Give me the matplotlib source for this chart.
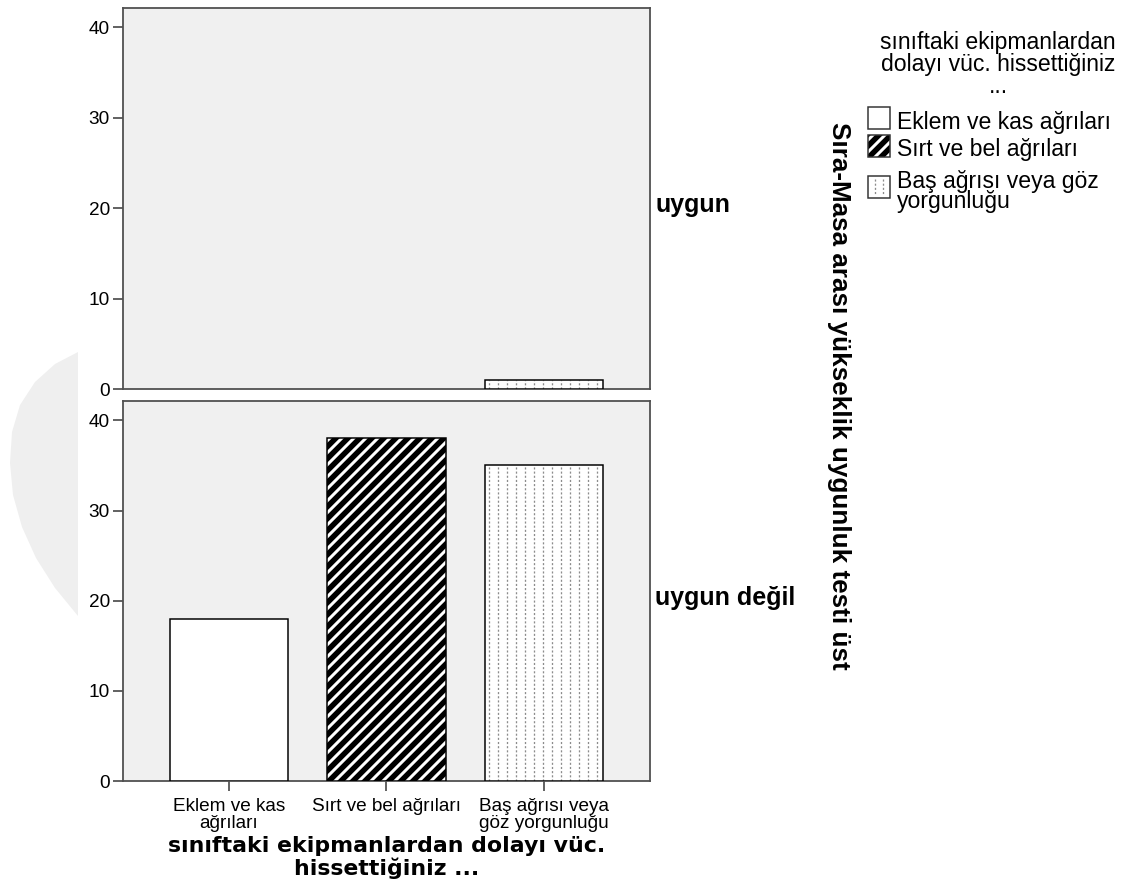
import numpy as np
import matplotlib
matplotlib.use("Agg")
import matplotlib.pyplot as plt
from matplotlib.patches import Rectangle, Polygon

# ---- data -------------------------------------------------------------
categories = ["Eklem ve kas\nağrıları", "Sırt ve bel ağrıları", "Baş ağrısı veya\ngöz yorgunluğu"]
legend_labels = ["Eklem ve kas ağrıları", "Sırt ve bel ağrıları", "Baş ağrısı veya göz\nyorgunluğu"]
panel_labels = ["uygun", "uygun değil"]
counts_uygun = [0, 0, 1]
counts_uygun_degil = [18, 38, 35]
y_ticks = [0, 10, 20, 30, 40]

x_title = "sınıftaki ekipmanlardan dolayı vüc.\nhissettiğiniz ..."
legend_title = "sınıftaki ekipmanlardan\ndolayı vüc. hissettiğiniz\n..."
facet_title = "Sıra-Masa arası yükseklik uygunluk testi üst"

# ---- styling ----------------------------------------------------------
W, H, DPI = 1127, 883, 72
plt.rcParams["hatch.linewidth"] = 3.0
REG = ["Liberation Sans", "DejaVu Sans"]
BOLD = ["Liberation Sans", "DejaVu Sans"]
BOLD_TITLE = ["DejaVu Sans"]
PANEL_BG = "#f0f0f0"
FRAME = "#505050"
DOT_COLOR = "#8c8c8c"
BAR_W = 0.75
DOT_STEP = 0.057

fig = plt.figure(figsize=(W / DPI, H / DPI), dpi=DPI)


def px_axes(left, top, right, bottom):
    return fig.add_axes([left / W, (H - bottom) / H, (right - left) / W, (bottom - top) / H])


# soft grey backdrop shape at the left edge
shape_px = [(78, 352), (55, 364), (35, 382), (20, 405), (12, 432), (10, 463), (13, 495),
            (22, 527), (36, 558), (55, 588), (78, 616)]
fig.patches.append(Polygon([(x / W, 1 - y / H) for x, y in shape_px], closed=True,
                           transform=fig.transFigure, facecolor="#efefef",
                           edgecolor="none", zorder=-5))


def dotted_lines(ax, x0, x1, y0, y1, step, clip=None, lw=1.3, z=3.5):
    for xx in np.arange(x0 + step / 2, x1, step):
        ln, = ax.plot([xx, xx], [y0, y1], color=DOT_COLOR, lw=lw,
                      linestyle=(0, (1.6, 1.6)), zorder=z, solid_capstyle="butt")
        if clip is not None:
            ln.set_clip_path(clip)


def draw_bar(ax, x, val, style):
    if val <= 0:
        return
    left = x - BAR_W / 2
    if style == 0:
        ax.bar(x, val, width=BAR_W, color="white", edgecolor="black", linewidth=1.5, zorder=3)
    elif style == 1:
        ax.bar(x, val, width=BAR_W, color="black", edgecolor="white", hatch="//",
               linewidth=0, zorder=3)
        ax.bar(x, val, width=BAR_W, fill=False, edgecolor="black", linewidth=1.5, zorder=4)
    else:
        bars = ax.bar(x, val, width=BAR_W, color="white", edgecolor="none", zorder=3)
        dotted_lines(ax, left, left + BAR_W, 0, val, DOT_STEP, clip=bars[0])
        ax.bar(x, val, width=BAR_W, fill=False, edgecolor="black", linewidth=1.5, zorder=4)


def style_axes(ax, show_xticks):
    ax.set_facecolor(PANEL_BG)
    ax.set_xlim(-0.673, 2.673)
    ax.set_ylim(0, 42.15)
    ax.set_yticks(y_ticks)
    ax.set_yticklabels([str(t) for t in y_ticks], fontfamily=REG, fontsize=19)
    for sp in ax.spines.values():
        sp.set_color(FRAME)
        sp.set_linewidth(1.8)
    ax.tick_params(axis="y", length=10, width=1.5, color="#333333", pad=3)
    if show_xticks:
        ax.set_xticks(range(len(categories)))
        ax.set_xticklabels(categories, fontfamily=REG, fontsize=19, linespacing=1.0)
        ax.tick_params(axis="x", length=10, width=1.5, color="#333333", pad=7)
    else:
        ax.set_xticks([])


ax_top = px_axes(123, 8, 650, 389)
ax_bot = px_axes(123, 401, 650, 781)

for ax, vals, show in [(ax_top, counts_uygun, False), (ax_bot, counts_uygun_degil, True)]:
    style_axes(ax, show)
    for i, v in enumerate(vals):
        draw_bar(ax, i, v, i)

# facet row labels
for ax, lab in zip([ax_top, ax_bot], panel_labels):
    ax.text(1.0095, 0.464, lab, transform=ax.transAxes, ha="left", va="baseline",
            fontfamily=BOLD, fontweight="bold", fontsize=25)

# overlay in pixel coordinates for the outer titles and the legend
ov = fig.add_axes([0, 0, 1, 1], zorder=10)
ov.set_xlim(0, W)
ov.set_ylim(H, 0)
ov.axis("off")
ov.patch.set_alpha(0)

ov.text(839, 396, facet_title, rotation=-90, ha="center", va="center",
        fontfamily=BOLD, fontweight="bold", fontsize=26)

ov.text(387, 836, x_title, ha="center", va="top", fontfamily=BOLD_TITLE,
        fontweight="bold", fontsize=22, linespacing=1.08, multialignment="center")

# legend
ov.text(998, 31, legend_title, ha="center", va="top", fontfamily=REG, fontsize=23,
        linespacing=0.95, multialignment="center")

box_x, box_w, box_h = 868, 22, 22
rows = [(107, 111), (135, 138), (176, 170)]  # (box top, text top)
for i, (lab, (btop, ttop)) in enumerate(zip(legend_labels, rows)):
    if i == 1:
        ov.add_patch(Rectangle((box_x, btop), box_w, box_h, facecolor="black",
                               edgecolor="white", hatch="//", linewidth=0))
    else:
        ov.add_patch(Rectangle((box_x, btop), box_w, box_h, facecolor="white",
                               edgecolor="none"))
    if i == 2:
        for fx in (0.3, 0.68):
            ov.plot([box_x + fx * box_w] * 2, [btop + 3, btop + box_h - 3], color=DOT_COLOR,
                    lw=1.3, linestyle=(0, (1.6, 1.6)))
    ov.add_patch(Rectangle((box_x, btop), box_w, box_h, fill=False, edgecolor="#333333",
                           linewidth=1.5))
    ov.text(897, ttop, lab, ha="left", va="top", fontfamily=REG, fontsize=23,
            linespacing=0.85)

fig.savefig("out.png", dpi=DPI, facecolor="white")
